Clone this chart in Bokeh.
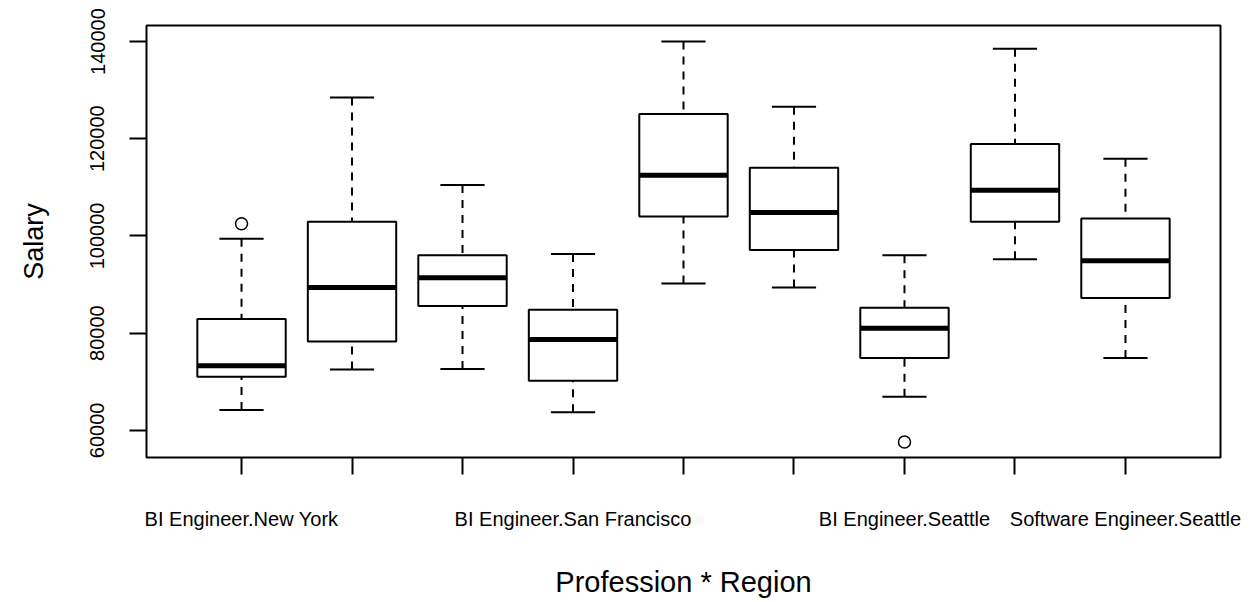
from bokeh.plotting import figure
from bokeh.models import Range1d, FixedTicker
from bokeh.embed import file_html
from bokeh.resources import INLINE

# ---- data ----
categories = [
    "BI Engineer.New York", "Data Scientist.New York", "Software Engineer.New York",
    "BI Engineer.San Francisco", "Data Scientist.San Francisco", "Software Engineer.San Francisco",
    "BI Engineer.Seattle", "Data Scientist.Seattle", "Software Engineer.Seattle",
]
lower_whisker = [64200, 72500, 72600, 63700, 90200, 89400, 66900, 95200, 74900]
q1            = [71000, 78300, 85600, 70200, 104000, 97100, 74900, 102900, 87200]
median        = [73300, 89400, 91400, 78700, 112500, 104800, 81000, 109400, 94900]
q3            = [82900, 102900, 96000, 84800, 125100, 114000, 85200, 118900, 103600]
upper_whisker = [99400, 128500, 110500, 96300, 140000, 126600, 96000, 138500, 115900]
outlier_groups = ["BI Engineer.New York", "BI Engineer.Seattle"]
outlier_values = [102500, 57600]
# labels R could fit under the axis (the others are dropped for overlap)
shown_labels = ["BI Engineer.New York", "BI Engineer.San Francisco",
                "BI Engineer.Seattle", "Software Engineer.Seattle"]
y_ticks = [60000, 80000, 100000, 120000, 140000]

FONT = "Liberation Sans"
pos = list(range(1, len(categories) + 1))
box_w = 0.8
cap_w = 0.4

p = figure(width=1252, height=602, output_backend="svg", toolbar_location=None,
           x_range=Range1d(0.14, len(categories) + 0.86),
           y_range=Range1d(54408, 143292),
           min_border_left=146, min_border_right=32,
           min_border_top=25, min_border_bottom=145)
p.background_fill_color = "white"
p.border_fill_color = "white"
p.outline_line_color = "black"
p.outline_line_width = 2
p.xgrid.visible = False
p.ygrid.visible = False

# whisker stems (dashed, from cap to box edge)
p.segment(x0=pos, y0=lower_whisker, x1=pos, y1=q1, line_color="black",
          line_width=2, line_dash="8 7")
p.segment(x0=pos, y0=upper_whisker, x1=pos, y1=q3, line_color="black",
          line_width=2, line_dash="8 7")
# caps
p.segment(x0=[x - cap_w / 2 for x in pos], y0=lower_whisker,
          x1=[x + cap_w / 2 for x in pos], y1=lower_whisker,
          line_color="black", line_width=2)
p.segment(x0=[x - cap_w / 2 for x in pos], y0=upper_whisker,
          x1=[x + cap_w / 2 for x in pos], y1=upper_whisker,
          line_color="black", line_width=2)
# boxes
p.vbar(x=pos, width=box_w, bottom=q1, top=q3, fill_color="white",
       line_color="black", line_width=2)
# medians
p.segment(x0=[x - box_w / 2 for x in pos], y0=median,
          x1=[x + box_w / 2 for x in pos], y1=median,
          line_color="black", line_width=5, line_cap="butt")
# outliers
ox = [categories.index(g) + 1 for g in outlier_groups]
p.scatter(x=ox, y=outlier_values, marker="circle", size=12,
          fill_color=None, line_color="black", line_width=1.5)

# axes
xa = p.xaxis[0]
xa.ticker = FixedTicker(ticks=pos)
xa.major_label_overrides = {x: (c if c in shown_labels else "")
                            for x, c in zip(pos, categories)}
xa.minor_tick_line_color = None
xa.axis_line_color = None
xa.major_tick_in = 0
xa.major_tick_out = 17
xa.major_tick_line_width = 2
xa.major_tick_line_color = "black"
xa.major_label_text_font = FONT
xa.major_label_text_font_size = "20px"
xa.major_label_text_color = "black"
xa.major_label_standoff = 33
xa.axis_label = "Profession * Region"
xa.axis_label_text_font = FONT
xa.axis_label_text_font_size = "29px"
xa.axis_label_text_font_style = "normal"
xa.axis_label_text_color = "black"
xa.axis_label_standoff = 33

ya = p.yaxis[0]
ya.ticker = FixedTicker(ticks=y_ticks)
ya.major_label_overrides = {t: str(t) for t in y_ticks}
ya.minor_tick_line_color = None
ya.axis_line_color = None
ya.major_tick_in = 0
ya.major_tick_out = 17
ya.major_tick_line_width = 2
ya.major_tick_line_color = "black"
ya.major_label_orientation = "parallel"
ya.major_label_text_font = FONT
ya.major_label_text_font_size = "20px"
ya.major_label_text_color = "black"
ya.major_label_standoff = 25
ya.axis_label = "Salary"
ya.axis_label_text_font = FONT
ya.axis_label_text_font_size = "27px"
ya.axis_label_text_font_style = "normal"
ya.axis_label_text_color = "black"
ya.axis_label_standoff = 39

open("out.html", "w").write(file_html(p, INLINE))
